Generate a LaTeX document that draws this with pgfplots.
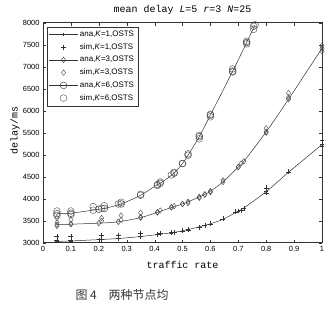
\documentclass[border=0pt]{standalone}
\usepackage{fontspec}
\setmainfont{Liberation Sans}
\newfontfamily\mono{Liberation Mono}
\newfontfamily\cjk{Noto Sans CJK SC}
\usepackage{pgfplots}
\pgfplotsset{compat=1.18}
\begin{document}
\begin{tikzpicture}
\path[use as bounding box] (0,0) rectangle (333bp,309bp);
\begin{axis}[
  at={(43bp,66.3bp)}, anchor=south west,
  scale only axis, width=279bp, height=220bp,
  xmin=0, xmax=1, ymin=3000, ymax=8000,
  xtick={0,0.1,0.2,0.3,0.4,0.5,0.6,0.7,0.8,0.9,1},
  xticklabels={0,0.1,0.2,0.3,0.4,0.5,0.6,0.7,0.8,0.9,1},
  ytick={3000,3500,4000,4500,5000,5500,6000,6500,7000,7500,8000},
  yticklabels={3000,3500,4000,4500,5000,5500,6000,6500,7000,7500,8000},
  tick align=inside, major tick length=3bp,
  tick label style={font=\fontsize{7.5}{8}\selectfont},
  axis line style={black!80, line width=0.5pt},
  tick style={black!80},
  title={\mono\fontsize{10}{12}\selectfont mean delay \textit{L}=5 \textit{r}=3 \textit{N}=25},
  title style={at={(0.5,1)}, anchor=south, inner sep=2pt},
  xlabel={\mono\fontsize{10}{12}\selectfont traffic rate},
  xlabel style={at={(axis description cs:0.5,-0.1)}, anchor=center},
  ylabel={\mono\fontsize{10}{12}\selectfont delay/ms},
  ylabel style={at={(axis description cs:-0.1,0.51)}, anchor=center},
  legend style={font=\fontsize{8}{9}\selectfont, draw=black!80, at={(0.014,0.982)}, anchor=north west, row sep=1.6pt, inner sep=2pt},
  legend cell align=left,
  legend image code/.code={\draw[mark repeat=2,mark phase=2,#1] plot coordinates {(0cm,0cm) (0.5cm,0cm) (1cm,0cm)};},
]
% ana K=1
\addplot[black!80, line width=0.5pt, smooth, mark=+, mark size=1.8pt, mark options={solid}] coordinates {
(0.05,3030) (0.1,3040) (0.2,3070) (0.27,3095) (0.35,3140) (0.41,3185) (0.46,3225) (0.5,3270) (0.52,3300) (0.56,3360) (0.58,3395) (0.6,3430) (0.645,3530) (0.7,3720) (0.72,3790) (0.8,4160) (0.88,4600) (1.0,5230)};
\addlegendentry{ana,\textit{K}=1,OSTS}
% sim K=1
\addplot[black!80, only marks, mark=+, mark size=2.5pt] coordinates {
(0.05,3060) (0.05,3150) (0.1,3050) (0.1,3150) (0.21,3080) (0.21,3160) (0.27,3100) (0.27,3170) (0.35,3150) (0.35,3210) (0.41,3190) (0.42,3220) (0.46,3230) (0.47,3240) (0.5,3270) (0.52,3290) (0.56,3350) (0.58,3390) (0.6,3430) (0.645,3540) (0.69,3700) (0.71,3740) (0.72,3780) (0.8,4130) (0.8,4250) (0.88,4610) (1.0,5200) (1.0,5320)};
\addlegendentry{sim,\textit{K}=1,OSTS}
% ana K=3
\addplot[black!80, line width=0.5pt, smooth, mark=diamond, mark size=2.8pt, mark options={solid, black!70}] coordinates {
(0.05,3410) (0.1,3420) (0.2,3445) (0.27,3475) (0.35,3570) (0.41,3690) (0.46,3800) (0.5,3880) (0.52,3930) (0.56,4040) (0.58,4100) (0.6,4170) (0.645,4380) (0.7,4720) (0.72,4850) (0.8,5520) (0.88,6260) (1.0,7420)};
\addlegendentry{ana,\textit{K}=3,OSTS}
% sim K=3
\addplot[black!70, only marks, mark=diamond, mark size=2.8pt] coordinates {
(0.05,3380) (0.05,3460) (0.05,3560) (0.1,3430) (0.1,3520) (0.21,3500) (0.21,3560) (0.28,3520) (0.28,3620) (0.35,3580) (0.35,3680) (0.41,3690) (0.42,3730) (0.46,3810) (0.47,3830) (0.5,3880) (0.52,3900) (0.56,4020) (0.58,4090) (0.6,4150) (0.645,4420) (0.7,4720) (0.71,4800) (0.8,5500) (0.8,5600) (0.88,6300) (0.88,6400) (1.0,7350) (1.0,7480)};
\addlegendentry{sim,\textit{K}=3,OSTS}
% ana K=6
\addplot[black!80, line width=0.5pt, smooth, mark=o, mark size=3.4pt, mark options={solid, black!70}] coordinates {
(0.05,3660) (0.1,3670) (0.2,3760) (0.22,3780) (0.28,3880) (0.35,4080) (0.41,4320) (0.42,4350) (0.47,4580) (0.5,4800) (0.52,4990) (0.56,5410) (0.6,5900) (0.68,6900) (0.73,7550) (0.76,7950)};
\addlegendentry{ana,\textit{K}=6,OSTS}
% sim K=6
\addplot[black!70, only marks, mark=o, mark size=3.4pt] coordinates {
(0.05,3620) (0.05,3720) (0.1,3640) (0.1,3720) (0.18,3740) (0.18,3820) (0.21,3780) (0.22,3840) (0.27,3880) (0.28,3920) (0.35,4100) (0.41,4300) (0.42,4380) (0.46,4540) (0.47,4600) (0.5,4800) (0.52,5020) (0.56,5360) (0.56,5440) (0.6,5860) (0.6,5920) (0.68,6880) (0.68,6950) (0.73,7520) (0.73,7580) (0.755,7850) (0.755,7920)};
\addlegendentry{sim,\textit{K}=6,OSTS}
\end{axis}
\node[anchor=west, font=\cjk\fontsize{12}{13}\selectfont, text=black!80] at (72bp,14bp) {图 4\quad 两种节点均};
\end{tikzpicture}
\end{document}
